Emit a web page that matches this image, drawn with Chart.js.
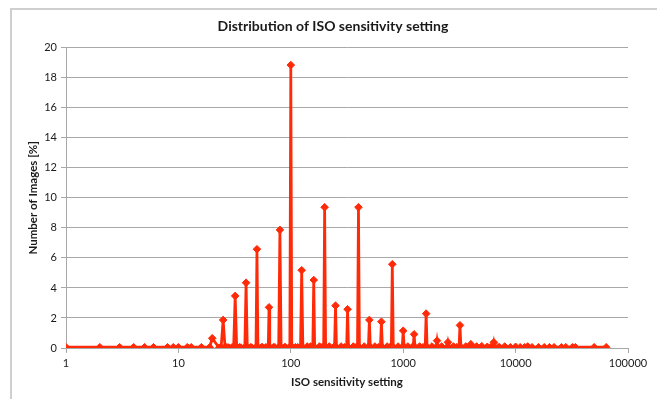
<!DOCTYPE html>
<html>
<head>
<meta charset="utf-8">
<script src="https://cdn.jsdelivr.net/npm/chart.js@4.4.1/dist/chart.umd.min.js"></script>
<style>
  html, body { margin: 0; padding: 0; background: #ffffff; }
  #wrap { position: relative; width: 657px; height: 399px; }
</style>
</head>
<body>
<div id="wrap"><canvas id="c" width="657" height="399"></canvas></div>
<script>
// ---- data ----
const chartTitle = "Distribution of ISO sensitivity setting";
const xAxisTitle = "ISO sensitivity setting";
const yAxisTitle = "Number of Images [%]";

const isoSettings = [
  1, 2, 3, 4, 5, 6, 8, 9, 10, 12, 13, 16, 19, 20, 23,
  24, 25, 26, 27, 28, 30,
  31, 32, 33, 35, 36,
  39, 40, 41, 44, 45,
  49, 50, 51, 55, 56, 60,
  63, 64, 65, 70, 72,
  78, 80, 82, 88, 90,
  98, 100, 102, 110, 115,
  122, 125, 128, 140, 150,
  157, 160, 163, 180, 190,
  196, 200, 204, 220, 240,
  245, 250, 255, 280, 300,
  314, 320, 326, 360, 380,
  392, 400, 408, 450,
  490, 500, 510, 560, 600,
  627, 640, 653, 720, 760,
  784, 800, 816, 900,
  980, 1000, 1020, 1100, 1200,
  1225, 1250, 1275, 1400, 1500,
  1568, 1600, 1632, 1800,
  1960, 2000, 2040, 2200,
  2450, 2500, 2550, 2800, 3000,
  3136, 3200, 3264, 3600,
  3920, 4000, 4080, 4500, 5000, 5600, 6000,
  6272, 6400, 6528, 7000, 7200, 8000, 9000,
  10000, 11000, 12000, 12800, 14000, 16000, 18000,
  20000, 22000, 25600, 28000, 32000, 34000, 50000, 64000
];
const imagePercent = [
  0.05, 0.05, 0.05, 0.05, 0.05, 0.05, 0.05, 0.05, 0.05, 0.05, 0.05, 0.05, 0.05, 0.65, 0.02,
  0.05, 1.87, 0.05, 0.05, 0.03, 0.05,
  0.05, 3.47, 0.05, 0.05, 0.03,
  0.05, 4.35, 0.05, 0.05, 0.03,
  0.05, 6.58, 0.05, 0.05, 0.05, 0.05,
  0.05, 2.71, 0.05, 0.05, 0.05,
  0.05, 7.87, 0.05, 0.05, 0.05,
  0.08, 18.85, 0.10, 0.05, 0.05,
  0.05, 5.18, 0.05, 0.10, 0.10,
  0.05, 4.53, 0.05, 0.10, 0.05,
  0.05, 9.38, 0.05, 0.10, 0.05,
  0.05, 2.82, 0.05, 0.10, 0.05,
  0.05, 2.58, 0.05, 0.10, 0.05,
  0.05, 9.38, 0.05, 0.10,
  0.05, 1.87, 0.05, 0.10, 0.05,
  0.05, 1.75, 0.05, 0.10, 0.05,
  0.05, 5.58, 0.05, 0.10,
  0.05, 1.15, 0.05, 0.10, 0.05,
  0.05, 0.91, 0.05, 0.10, 0.05,
  0.05, 2.29, 0.05, 0.10,
  0.05, 0.49, 0.05, 0.10,
  0.05, 0.38, 0.05, 0.10, 0.05,
  0.05, 1.51, 0.05, 0.10,
  0.05, 0.25, 0.05, 0.10, 0.12, 0.08, 0.05,
  0.05, 0.38, 0.05, 0.05, 0.05, 0.10, 0.05,
  0.08, 0.05, 0.05, 0.10, 0.05, 0.05, 0.05,
  0.05, 0.05, 0.05, 0.05, 0.05, 0.05, 0.05, 0.05
];
const xTickValues = [1, 10, 100, 1000, 10000, 100000];
const yMin = 0, yMax = 20, yStep = 2;

// ---- styling ----
const RED = '#FF2A08';
const GRID = '#a8a8a8';
const TEXT = '#1a1a1a';
const FONT = 'Lato, "Open Sans", "Liberation Sans", sans-serif';

const points = isoSettings.map((v, i) => ({ x: v, y: imagePercent[i] }));

const framePlugin = {
  id: 'frame',
  beforeDraw(chart) {
    const ctx = chart.ctx;
    ctx.save();
    ctx.fillStyle = '#ffffff';
    ctx.fillRect(0, 0, chart.width, chart.height);
    ctx.strokeStyle = '#cfcfcf';
    ctx.lineWidth = 2;
    ctx.beginPath();
    ctx.moveTo(11, chart.height);
    ctx.lineTo(11, 9);
    ctx.lineTo(chart.width, 9);
    ctx.stroke();
    ctx.restore();
  }
};

new Chart(document.getElementById('c'), {
  type: 'line',
  data: {
    datasets: [{
      label: 'ISO',
      data: points,
      borderColor: RED,
      backgroundColor: RED,
      borderWidth: 2.75,
      pointStyle: 'rectRot',
      pointRadius: 3.8,
      pointBorderWidth: 1,
      pointBorderColor: RED,
      pointBackgroundColor: RED,
      tension: 0,
      fill: false
    }]
  },
  options: {
    responsive: false,
    animation: false,
    devicePixelRatio: 1,
    layout: { padding: { left: 9, right: 0, top: 0, bottom: 0 } },
    plugins: {
      legend: { display: false },
      tooltip: { enabled: false },
      title: {
        display: true,
        text: chartTitle,
        color: TEXT,
        font: { family: FONT, size: 14, weight: 'bold' },
        padding: { top: 18, bottom: 13 }
      }
    },
    scales: {
      x: {
        type: 'logarithmic',
        min: 1,
        max: 100000,
        afterBuildTicks(scale) {
          scale.ticks = xTickValues.map(v => ({ value: v, major: true }));
        },
        afterFit(scale) { scale.height = 51; },
        grid: { drawOnChartArea: false, drawTicks: true, tickLength: 5, color: GRID },
        border: { display: true, color: GRID, width: 1 },
        ticks: {
          color: TEXT,
          font: { family: FONT, size: 11 },
          padding: 4,
          maxRotation: 0,
          autoSkip: false,
          callback: (v) => String(v)
        },
        title: {
          display: true,
          text: xAxisTitle,
          color: TEXT,
          font: { family: FONT, size: 11.5, weight: 'bold' },
          padding: { top: 0, bottom: 10 }
        }
      },
      y: {
        min: yMin,
        max: yMax,
        afterFit(scale) { scale.width = 57; },
        grid: { color: GRID, lineWidth: 1, tickLength: 5, drawTicks: true },
        border: { display: true, color: GRID, width: 1 },
        ticks: {
          stepSize: yStep,
          color: TEXT,
          font: { family: FONT, size: 11 },
          padding: 4
        },
        title: {
          display: true,
          text: yAxisTitle,
          color: TEXT,
          font: { family: FONT, size: 11.5, weight: 'bold' },
          padding: { top: 17, bottom: 0 }
        }
      },
      spacer: {
        type: 'linear',
        position: 'right',
        display: true,
        afterFit(scale) { scale.width = 29; },
        grid: { display: false, drawTicks: false },
        border: { display: false },
        ticks: { display: false }
      }
    }
  },
  plugins: [framePlugin]
});
</script>
</body>
</html>
